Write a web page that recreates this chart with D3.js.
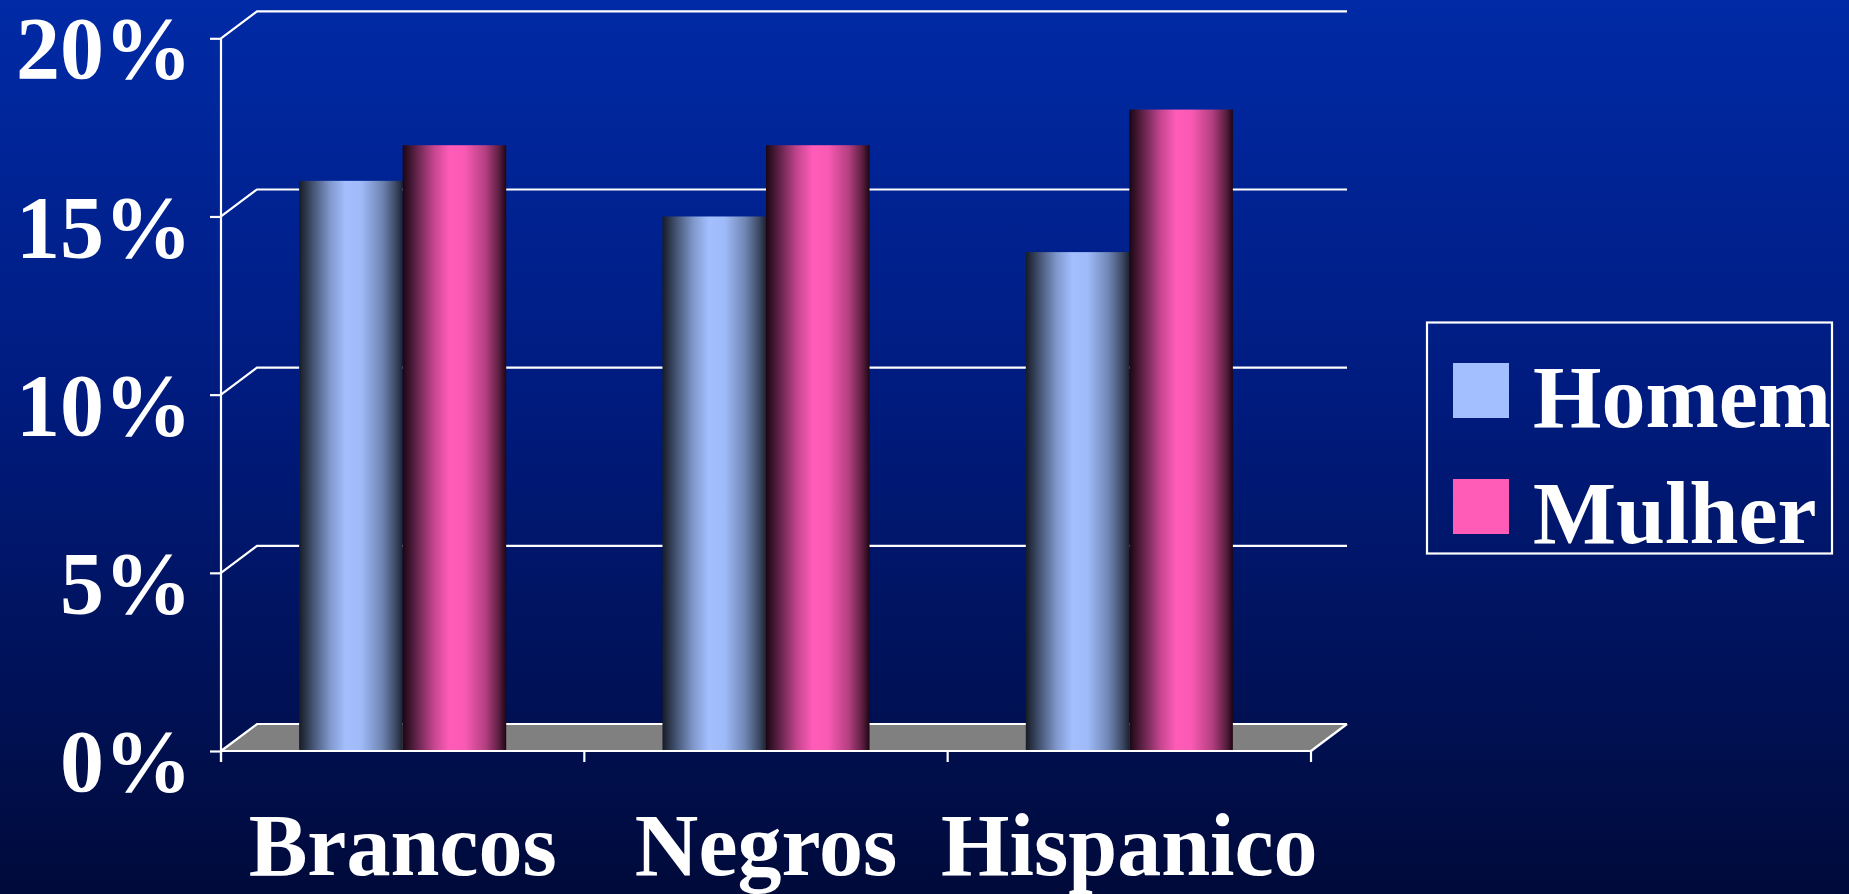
<!DOCTYPE html>
<html>
<head>
<meta charset="utf-8">
<script src="https://cdn.jsdelivr.net/npm/d3@7"></script>
<style>
  html, body { margin: 0; padding: 0; background: #001050; }
  svg { display: block; }
</style>
</head>
<body>
<svg id="chart" width="1849" height="894"></svg>
<script>
const categories = ["Brancos", "Negros", "Hispanico"];
const seriesNames = ["Homem", "Mulher"];
const homemValues = [16, 15, 14];
const mulherValues = [17, 17, 18];
const yTickValues = [0, 5, 10, 15, 20];
const yTickLabels = ["0%", "5%", "10%", "15%", "20%"];

const W = 1849, H = 894;
const svg = d3.select("#chart");
const defs = svg.append("defs");

// background gradient
const bg = defs.append("linearGradient").attr("id", "bg").attr("x1", 0).attr("y1", 0).attr("x2", 0).attr("y2", 1);
[[0, "#002aa6"], [0.45, "#001b7e"], [1, "#000a3a"]].forEach(s => bg.append("stop").attr("offset", s[0]).attr("stop-color", s[1]));
svg.append("rect").attr("width", W).attr("height", H).attr("fill", "url(#bg)");

// bar gradients
const gH = defs.append("linearGradient").attr("id", "gHomem").attr("x1", 0).attr("x2", 1).attr("y1", 0).attr("y2", 0);
[[0, "#161b26"], [0.12, "#404e6c"], [0.3, "#8098cc"], [0.45, "#a3bfff"], [0.6, "#9fbaf8"], [0.8, "#6f86b4"], [0.93, "#3e4b66"], [1, "#1c2232"]]
  .forEach(s => gH.append("stop").attr("offset", s[0]).attr("stop-color", s[1]));
const gM = defs.append("linearGradient").attr("id", "gMulher").attr("x1", 0).attr("x2", 1).attr("y1", 0).attr("y2", 0);
[[0, "#1a0612"], [0.12, "#5a2044"], [0.3, "#c4458e"], [0.45, "#ff5cb8"], [0.6, "#f95ab3"], [0.8, "#b33f80"], [0.93, "#5c1f42"], [1, "#1e0612"]]
  .forEach(s => gM.append("stop").attr("offset", s[0]).attr("stop-color", s[1]));
const fills = { Homem: "url(#gHomem)", Mulher: "url(#gMulher)" };
const legendColors = { Homem: "#a3bfff", Mulher: "#ff5cb8" };

// scales
const x0 = 221, x1 = 1311;
const dx = 36, dy = -27;
const y = d3.scaleLinear().domain([0, 20]).range([751, 38.3]);
const x = d3.scaleBand().domain(categories).range([x0, x1]).paddingInner(0.43).paddingOuter(0.215);
const xs = d3.scaleBand().domain(seriesNames).range([0, x.bandwidth()]);

const font = "'Liberation Serif', 'Times New Roman', serif";

// floor
const y0 = y(0);
svg.append("path")
  .attr("d", `M${x0},${y0} L${x0 + dx},${y0 + dy} L${x1 + dx},${y0 + dy} L${x1},${y0} Z`)
  .attr("fill", "#808080");

// back wall gridlines + diagonals
const grid = svg.append("g").attr("stroke", "#ffffff").attr("stroke-width", 2.2).attr("fill", "none");
yTickValues.forEach(v => {
  const yy = y(v);
  grid.append("path").attr("d", `M${x0},${yy} L${x0 + dx},${yy + dy} L${x1 + dx},${yy + dy}`);
});
// right floor edge
grid.append("path").attr("d", `M${x1},${y0} L${x1 + dx},${y0 + dy}`);

// bars
const data = categories.map((c, i) => ({ cat: c, values: [
  { name: "Homem", v: homemValues[i] },
  { name: "Mulher", v: mulherValues[i] }
]}));
const groups = svg.append("g").selectAll("g").data(data).join("g")
  .attr("transform", d => `translate(${x(d.cat)},0)`);
groups.selectAll("rect").data(d => d.values).join("rect")
  .attr("x", d => xs(d.name))
  .attr("width", xs.bandwidth())
  .attr("y", d => y(d.v))
  .attr("height", d => y(0) - y(d.v))
  .attr("fill", d => fills[d.name]);

// front floor edge and y axis
const yAxis = d3.axisLeft(y).tickValues(yTickValues).tickFormat((d, i) => yTickLabels[i]).tickSize(11).tickPadding(18);
const ya = svg.append("g").attr("transform", `translate(${x0},0)`).call(yAxis);
ya.select(".domain").remove();
ya.selectAll(".tick line").attr("stroke", "#fff").attr("stroke-width", 2.2);
ya.selectAll(".tick text").attr("fill", "#fff").attr("font-family", font).attr("font-weight", "bold")
  .attr("font-size", 88).attr("dy", "0.45em");
svg.append("line").attr("x1", x0).attr("x2", x0).attr("y1", y(20)).attr("y2", y0 + 11)
  .attr("stroke", "#fff").attr("stroke-width", 2.2);
svg.append("line").attr("x1", x0).attr("x2", x1).attr("y1", y0).attr("y2", y0)
  .attr("stroke", "#fff").attr("stroke-width", 2.2);

// x ticks at category boundaries
const step = x.step();
const bounds = d3.range(categories.length + 1).map(i => x0 + i * step);
svg.append("g").selectAll("line").data(bounds).join("line")
  .attr("x1", d => d).attr("x2", d => d).attr("y1", y0).attr("y2", y0 + 11)
  .attr("stroke", "#fff").attr("stroke-width", 2.2);

// x labels
svg.append("g").selectAll("text").data(categories).join("text")
  .attr("x", d => x(d) + x.bandwidth() / 2)
  .attr("y", 875)
  .attr("text-anchor", "middle")
  .attr("fill", "#fff").attr("font-family", font).attr("font-weight", "bold").attr("font-size", 88)
  .text(d => d);

// legend
const lg = svg.append("g");
lg.append("rect").attr("x", 1427).attr("y", 322.5).attr("width", 405).attr("height", 231)
  .attr("fill", "none").attr("stroke", "#fff").attr("stroke-width", 2.2);
const items = lg.selectAll("g").data(seriesNames).join("g")
  .attr("transform", (d, i) => `translate(0, ${i * 116})`);
items.append("rect").attr("x", 1453).attr("y", 363).attr("width", 56).attr("height", 55)
  .attr("fill", d => legendColors[d]);
items.append("text").attr("x", 1533).attr("y", 427)
  .attr("fill", "#fff").attr("font-family", font).attr("font-weight", "bold").attr("font-size", 88)
  .text(d => d);
</script>
</body>
</html>
